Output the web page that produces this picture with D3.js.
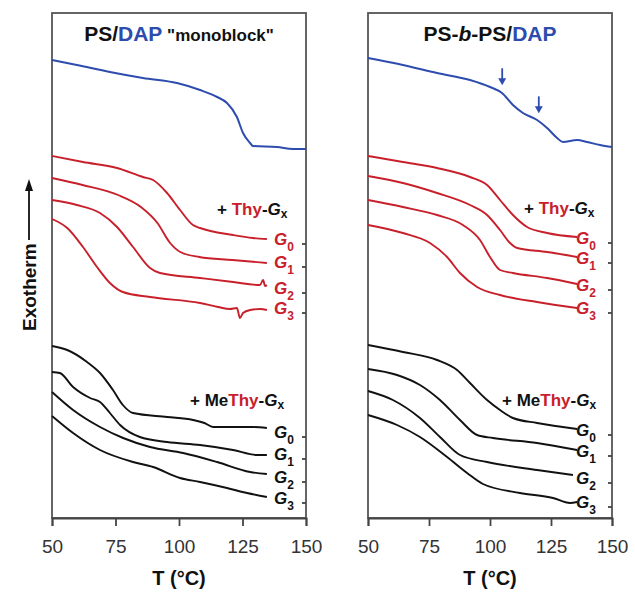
<!DOCTYPE html>
<html>
<head>
<meta charset="utf-8">
<script src="https://cdn.jsdelivr.net/npm/d3@7"></script>
<style>
  html, body { margin: 0; padding: 0; background: #fff; }
  text { font-family: "Liberation Sans", Arial, sans-serif; }
</style>
</head>
<body>
<svg id="chart" width="635" height="605"></svg>
<script>
// ---------------- DATA ----------------
// temperatures (°C) and relative heat-flow signal (a.u., exotherm up, curves offset)
const xTicks = [50, 75, 100, 125, 150];
const genLabels = ["0", "1", "2", "3"];

// Left panel: PS/DAP "monoblock"
const leftDAP = [[50,458],[59.8,453],[72.8,446],[85.8,440],[99.2,435],[108.3,428],[115,421],[118.9,415],[122.8,401],[125.2,385],[128,375],[129.1,372],[138.6,371],[144.9,369],[150,369]];
const leftThyG0 = [[50,362],[62.2,356],[75.6,350],[85.8,341],[89.8,338],[95.3,325],[100.4,308],[105.5,293],[108.3,290],[121.3,283],[129.1,280],[134.6,279]];
const leftThyG1 = [[50,340],[62,333],[76,323],[85,311],[91.5,295],[96.5,275],[100.5,266],[108,261],[121,258],[134.6,255]];
const leftThyG2 = [[50,318],[59.8,313],[68.9,305],[75.6,291],[81.9,271],[88.6,250],[92.5,245],[108.3,240],[121.3,236],[131.9,233],[133.1,238],[133.9,232],[134.6,233]];
const leftThyG3 = [[50,299],[56,290],[62.2,271],[67.7,251],[72.8,235],[77.9,226],[88.6,221],[108.3,215],[115.4,211],[120.1,209],[122.8,210],[124,200],[125.2,205],[128,208],[132,209],[134.6,208]];
const leftMeG0 = [[50,172],[56,168],[63.8,156],[68.9,145],[74,128],[77.9,113],[81.9,105],[95.3,101],[105.5,98],[110,95],[113.4,91],[121.3,91],[129.1,91],[134.6,90]];
const leftMeG1 = [[50,146],[53.1,145],[58.3,131],[65,120],[68.9,116],[72.8,105],[76.8,93],[84.6,81],[95.3,76],[108.3,73],[121.3,68],[130.7,63],[134.6,63]];
const leftMeG2 = [[50,126],[58.3,108],[68.9,91],[78,80],[88.6,71],[101.6,65],[115,56],[128,46],[134.6,44]];
const leftMeG3 = [[50,102],[58.3,85],[68.9,68],[81.9,56],[89.8,51],[100.4,40],[108.3,36],[118.9,30],[126.8,25],[134.6,21]];

// Right panel: PS-b-PS/DAP
const rightDAP = [[50,460],[64.3,453],[78.3,445],[91.8,438],[100,431],[104.9,425],[109.4,413],[113.5,405],[119.3,398],[123.4,390],[127.5,380],[129.9,376],[135.7,378],[139.8,376],[145.1,373],[150,371]];
const rightThyG0 = [[50,362],[64.3,356],[78.3,350],[91.8,341],[98.8,333],[104.1,318],[109.4,303],[115.2,291],[123.4,285],[135.7,281]];
const rightThyG1 = [[50,342],[64.3,335],[78.3,325],[91.8,313],[98.8,303],[104.1,288],[108.2,275],[111.1,270],[123.4,266],[135.7,261]];
const rightThyG2 = [[50,318],[64.3,311],[78.3,303],[88.9,293],[95.9,278],[100,261],[104.1,248],[109.4,245],[123.4,240],[135.7,234]];
const rightThyG3 = [[50,293],[64.3,285],[75.4,275],[82.4,261],[87.7,245],[94.7,231],[104.1,223],[119.3,216],[135.7,210]];
const rightMeG0 = [[50,173],[64.3,166],[78.3,158],[86.5,148],[91.8,135],[98.8,118],[104.1,108],[109.4,100],[119.3,95],[135.7,89]];
const rightMeG1 = [[50,149],[61.9,143],[71.3,133],[79.5,118],[87.7,98],[94.7,83],[101.2,80],[119.3,75],[135.7,68]];
const rightMeG2 = [[50,127],[60.2,118],[71.3,100],[79.5,81],[87.7,63],[98.8,56],[119.3,48],[134,43]];
const rightMeG3 = [[50,103],[61.9,93],[71.3,81],[82.4,61],[90.6,45],[97.1,34],[112.3,25],[125.8,20],[132.8,15],[135.7,16]];

// label levels (signal units) marked by small ticks on the right axis
const leftThyLevels = [274, 251, 225, 205];
const leftMeLevels = [81, 59, 36, 15];
const rightThyLevels = [275, 255, 228, 205];
const rightMeLevels = [83, 62, 35, 11];
// arrows marking transitions on the block copolymer curve (°C)
const rightArrowTemps = [105, 120];

// ---------------- DRAW ----------------
const BLUE = "#2d4cae", RED = "#c8202b", BLACK = "#111";
const svg = d3.select("#chart");

const panels = [
  { x0: 52, x1: 306, dap: leftDAP, thy: [leftThyG0, leftThyG1, leftThyG2, leftThyG3],
    me: [leftMeG0, leftMeG1, leftMeG2, leftMeG3], thyLv: leftThyLevels, meLv: leftMeLevels,
    gx: 274, thyLab: [217, 215], meLab: [190, 406], arrows: [] },
  { x0: 368, x1: 612, dap: rightDAP, thy: [rightThyG0, rightThyG1, rightThyG2, rightThyG3],
    me: [rightMeG0, rightMeG1, rightMeG2, rightMeG3], thyLv: rightThyLevels, meLv: rightMeLevels,
    gx: 576, thyLab: [524, 214], meLab: [502, 406], arrows: rightArrowTemps }
];

const yTop = 13, yBot = 518;

panels.forEach(p => {
  const x = d3.scaleLinear().domain([50, 150]).range([p.x0, p.x1]);
  const y = d3.scaleLinear().domain([0, 505]).range([yBot, yTop]);
  const g = svg.append("g");

  const line = d3.line().x(d => x(d[0])).y(d => y(d[1])).curve(d3.curveMonotoneX);

  // frame
  g.append("rect").attr("x", p.x0).attr("y", yTop).attr("width", p.x1 - p.x0).attr("height", yBot - yTop)
    .attr("fill", "none").attr("stroke", "#555").attr("stroke-width", 1.8);

  // bottom axis
  const ax = g.append("g").attr("transform", `translate(0,${yBot})`)
    .call(d3.axisBottom(x).tickValues(xTicks).tickSize(8).tickPadding(14).tickFormat(d3.format("d")));
  ax.select(".domain").attr("stroke", "#444").attr("stroke-width", 1.8);
  ax.selectAll(".tick line").attr("stroke", "#444").attr("stroke-width", 1.8);
  ax.selectAll(".tick text").attr("font-size", 19).attr("fill", "#333")
    .attr("font-family", "'Liberation Sans', Arial, sans-serif");

  // right axis small ticks at label levels
  const lv = p.thyLv.concat(p.meLv);
  g.selectAll(".rtick").data(lv).enter().append("line")
    .attr("x1", p.x1 - 4).attr("x2", p.x1).attr("y1", d => y(d)).attr("y2", d => y(d))
    .attr("stroke", "#444").attr("stroke-width", 1.8);

  // curves
  g.append("path").datum(p.dap).attr("d", line).attr("fill", "none").attr("stroke", BLUE).attr("stroke-width", 2);
  p.thy.forEach(c => g.append("path").datum(c).attr("d", line).attr("fill", "none").attr("stroke", RED).attr("stroke-width", 1.9));
  p.me.forEach(c => g.append("path").datum(c).attr("d", line).attr("fill", "none").attr("stroke", BLACK).attr("stroke-width", 1.9));

  // G labels
  function gLabel(level, i, color) {
    const t = g.append("text").attr("x", p.gx).attr("y", y(level) + 1)
      .attr("font-size", 17).attr("font-weight", "bold").attr("font-style", "italic").attr("fill", color);
    t.append("tspan").text("G");
    t.append("tspan").attr("font-size", 12).attr("font-style", "normal").attr("dy", 6).text(genLabels[i]);
  }
  p.thyLv.forEach((lvl, i) => gLabel(lvl, i, RED));
  p.meLv.forEach((lvl, i) => gLabel(lvl, i, BLACK));

  // + Thy-Gx
  const t1 = g.append("text").attr("x", p.thyLab[0]).attr("y", p.thyLab[1])
    .attr("font-size", 17).attr("font-weight", "bold").attr("fill", BLACK);
  t1.append("tspan").text("+ ");
  t1.append("tspan").attr("fill", RED).text("Thy");
  t1.append("tspan").text("-");
  t1.append("tspan").attr("font-style", "italic").text("G");
  t1.append("tspan").attr("font-size", 12).attr("dy", 3).text("x");

  // + MeThy-Gx
  const t2 = g.append("text").attr("x", p.meLab[0]).attr("y", p.meLab[1])
    .attr("font-size", 17).attr("font-weight", "bold").attr("fill", BLACK);
  t2.append("tspan").text("+ Me");
  t2.append("tspan").attr("fill", RED).text("Thy");
  t2.append("tspan").text("-");
  t2.append("tspan").attr("font-style", "italic").text("G");
  t2.append("tspan").attr("font-size", 12).attr("dy", 3).text("x");

  // arrows
  p.arrows.forEach(T => {
    const dapY = d3.scaleLinear().domain(p.dap.map(d => d[0])).range(p.dap.map(d => d[1]))(T);
    const tipY = y(dapY) - 8;
    g.append("line").attr("x1", x(T)).attr("x2", x(T)).attr("y1", tipY - 17).attr("y2", tipY - 5)
      .attr("stroke", BLUE).attr("stroke-width", 1.8);
    g.append("path").attr("d", `M${x(T) - 4},${tipY - 7} L${x(T) + 4},${tipY - 7} L${x(T)},${tipY} Z`).attr("fill", BLUE);
  });

  // x axis title
  g.append("text").attr("x", (p.x0 + p.x1) / 2).attr("y", 585).attr("text-anchor", "middle")
    .attr("font-size", 20).attr("font-weight", "bold").attr("fill", BLACK).text("T (°C)");
});

// titles
const tl = svg.append("text").attr("x", 179).attr("y", 41).attr("text-anchor", "middle")
  .attr("font-size", 21).attr("font-weight", "bold").attr("fill", BLACK);
tl.append("tspan").text("PS/");
tl.append("tspan").attr("fill", BLUE).text("DAP");
tl.append("tspan").attr("font-size", 17).text(" \"monoblock\"");

const tr = svg.append("text").attr("x", 490).attr("y", 41).attr("text-anchor", "middle")
  .attr("font-size", 21).attr("font-weight", "bold").attr("fill", BLACK);
tr.append("tspan").text("PS-");
tr.append("tspan").attr("font-style", "italic").text("b");
tr.append("tspan").text("-PS/");
tr.append("tspan").attr("fill", BLUE).text("DAP");

// y axis label with arrow
const yl = svg.append("g").attr("transform", "translate(29,331) rotate(-90)");
yl.append("text").attr("x", 0).attr("y", 7).attr("font-size", 19).attr("font-weight", "bold").attr("fill", BLACK).text("Exotherm");
yl.append("line").attr("x1", 91).attr("x2", 142).attr("y1", 0).attr("y2", 0).attr("stroke", BLACK).attr("stroke-width", 1.8);
yl.append("path").attr("d", "M140,-4 L152,0 L140,4 Z").attr("fill", BLACK);
</script>
</body>
</html>
